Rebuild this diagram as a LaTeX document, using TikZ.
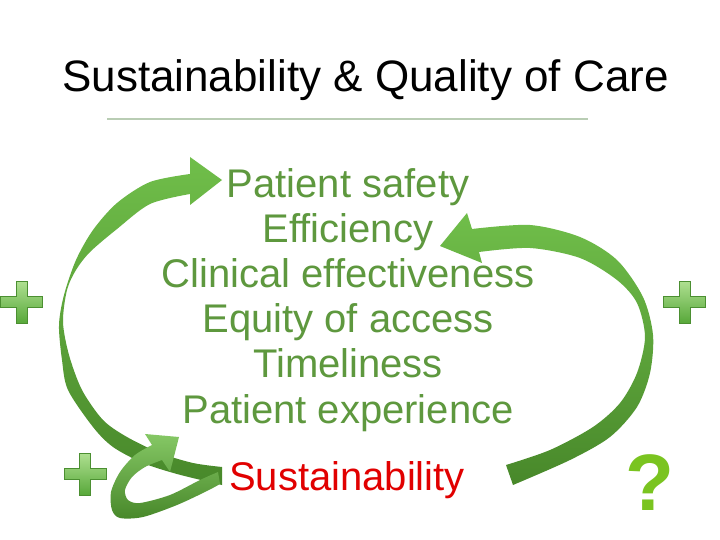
\documentclass[tikz,border=0pt]{standalone}
\usepackage{fontspec}
\setmainfont{Liberation Sans}
\definecolor{txtgreen}{RGB}{94,152,62}
\definecolor{sred}{RGB}{225,0,0}
\definecolor{qgreen}{RGB}{122,196,32}
\definecolor{arlight}{RGB}{112,190,74}
\definecolor{ardark}{RGB}{72,136,42}
\definecolor{pluslight}{RGB}{175,224,145}
\definecolor{plusdark}{RGB}{88,168,58}
\definecolor{rulecol}{RGB}{185,205,180}
\tikzset{
  listtext/.style={anchor=base, text=txtgreen, font=\fontsize{40}{45}\selectfont, inner sep=0pt},
  titletext/.style={anchor=base, text=black, font=\fontsize{44}{50}\selectfont, inner sep=0pt},
  arrowshade/.style={top color=arlight, bottom color=ardark},
  plusshade/.style={top color=pluslight, bottom color=plusdark, draw=plusdark!85!black, line width=0.5pt},
}
\newcommand\myplus[2]{%
  \begin{scope}[shift={(#1,#2)}]
    \shade[plusshade] (-21,-5.5) -- (-5.5,-5.5) -- (-5.5,-21) -- (5.5,-21) -- (5.5,-5.5) -- (21,-5.5)
      -- (21,5.5) -- (5.5,5.5) -- (5.5,21) -- (-5.5,21) -- (-5.5,5.5) -- (-21,5.5) -- cycle;
  \end{scope}}
\begin{document}
\begin{tikzpicture}[x=1pt,y=-1pt]
\useasboundingbox (0,0) rectangle (720,540);
\fill[white] (0,0) rectangle (720,540);

% title and rule
\node[titletext] (title) at (365.5,92) {Sustainability \& Quality of Care};
\coordinate (r1) at (107,119);
\coordinate (r2) at (588,119);
\draw[rulecol, line width=1.5pt] (r1) -- (r2);

% big left arrow
\shade[arrowshade] (222,180) -- (190,157) --
  plot[smooth] coordinates {(190,174) (150,182) (117,203) (93,230) (76,260) (64,295) (59,325) (62,360) (68,390) (93,427) (113,447) (143,463) (177,474) (222,485)}
  -- plot[smooth] coordinates {(222,467) (193,463) (160,453) (127,437) (103,420) (82,390) (69,355) (63,322) (67,290) (76,270) (90,252) (117,229) (150,204) (190,194)}
  -- (190,205) -- cycle;

% right arrow
\shade[arrowshade] (440,246) -- (467,213) --
  plot[smooth] coordinates {(472,229) (530,225) (580,237) (617,260) (643,297) (653,335) (650,373) (637,407) (610,437) (570,460) (513,485)}
  -- plot[smooth] coordinates {(506,465) (550,450) (593,427) (620,403) (637,373) (645,337) (637,303) (617,280) (580,258) (530,248) (479,252)}
  -- (482,263) -- cycle;

% small looping arrow
\shade[top color=arlight!85!white, bottom color=ardark] (179,437) -- (145,434) --
  plot[smooth] coordinates {(152,445) (135,455) (120,472) (111,492) (112,510) (120,518) (143,517) (177,505) (207,491) (220,484)}
  -- plot[smooth] coordinates {(218,472) (200,480) (170,495) (140,503) (128,500) (125,490) (132,477) (145,467) (162,460)}
  -- (170,472) -- cycle;

% plus signs
\myplus{21.5}{302}
\myplus{684.5}{302}
\myplus{85}{474}

% list
\node[listtext] (l1) at (348,197) {Patient safety};
\node[listtext] (l2) at (348,242.2) {Efficiency};
\node[listtext] (l3) at (348,287.4) {Clinical effectiveness};
\node[listtext] (l4) at (348,332.6) {Equity of access};
\node[listtext] (l5) at (348,377.8) {Timeliness};
\node[listtext] (l6) at (348,423) {Patient experience};
\node[listtext, text=sred] (l7) at (347,490) {Sustainability};

% question mark
\node[anchor=base, inner sep=0pt, text=qgreen, font=\fontsize{80}{80}\selectfont\bfseries] (q) at (650,510) {?};
\end{tikzpicture}
\end{document}
